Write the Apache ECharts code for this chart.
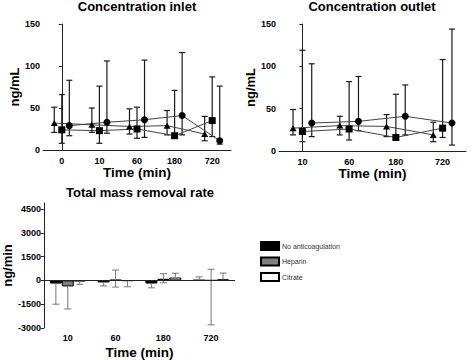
<!DOCTYPE html>
<html>
<head>
<meta charset="utf-8">
<script src="https://cdn.jsdelivr.net/npm/echarts@6/dist/echarts.min.js"></script>
<style>
  html, body { margin: 0; padding: 0; background: #fff; }
  #chart { width: 472px; height: 360px; }
</style>
</head>
<body>
<div id="chart"></div>
<script>
// time points
const inletTimes = ["0", "10", "60", "180", "720"];
const outletTimes = ["10", "60", "180", "720"];

// inlet concentration (ng/mL): median + range bars
const inletTriMean = [32, 30, 28, 29, 19];
const inletTriLow = [21, 21, 19, 18, 11];
const inletTriHigh = [51, 50, 49, 47, 40];
const inletSqMean = [24, 23, 25, 17, 35];
const inletSqLow = [8, 8, 14, 15, 16];
const inletSqHigh = [66, 76, 51, 71, 87];
const inletCircMean = [29, 33, 36, 41, 11];
const inletCircLow = [17, 20, 15, 18, 7];
const inletCircHigh = [83, 106, 107, 116, 76];

// outlet concentration (ng/mL)
const outletTriMean = [27, 30, 29, 19];
const outletTriLow = [19, 19, 17, 11];
const outletTriHigh = [49, 41, 43, 34];
const outletSqMean = [23, 26, 16, 27];
const outletSqLow = [11, 13, 16, 16];
const outletSqHigh = [119, 82, 67, 108];
const outletCircMean = [33, 35, 41, 33];
const outletCircLow = [17, 24, 19, 7];
const outletCircHigh = [103, 88, 78, 144];

// total mass removal rate (ng/min)
const groupNames = ["No anticoagulation", "Heparin", "Citrate"];
const noneMean = [-200, -130, -200, 20];
const noneLow = [-1500, -350, -470, 20];
const noneHigh = [-200, -130, -200, 220];
const heparinMean = [-380, 30, 100, 0];
const heparinLow = [-1800, -420, -150, -2800];
const heparinHigh = [-380, 650, 420, 700];
const citrateMean = [-60, -30, 180, 60];
const citrateLow = [-250, -400, 180, 60];
const citrateHigh = [-60, -30, 450, 460];

const yTicksRate = [-3000, -1500, 0, 1500, 3000, 4500];

const font = "'Liberation Sans', Arial, sans-serif";
const OFF = 0.2; // left / right shift of triangle & circle inside a time point

const pts = (mean, shift) => mean.map((v, i) => [i + shift, v]);
const errs = (low, high, shift) => low.map((v, i) => [i + shift, v, high[i]]);

function errRender(params, api) {
    const x = api.value(0);
    const lo = api.coord([x, api.value(1)]);
    const hi = api.coord([x, api.value(2)]);
    const hw = 3;
    const st = { stroke: "#1a1a1a", lineWidth: 1.2 };
    return {
        type: "group",
        children: [
            { type: "line", shape: { x1: lo[0], y1: lo[1], x2: hi[0], y2: hi[1] }, style: st },
            { type: "line", shape: { x1: hi[0] - hw, y1: hi[1], x2: hi[0] + hw, y2: hi[1] }, style: st },
            { type: "line", shape: { x1: lo[0] - hw, y1: lo[1], x2: lo[0] + hw, y2: lo[1] }, style: st },
        ],
    };
}

// error bars of the bar chart, shifted onto each of the 3 bars
function barErrRender(params, api) {
    const cat = api.value(0);
    const slot = api.value(4);
    const band = api.size([1, 0])[0];
    const bw = band * 0.75 / 3;
    const mean = api.value(3);
    const lo = api.coord([cat, api.value(1)]);
    const hi = api.coord([cat, api.value(2)]);
    const x = lo[0] + (slot - 1) * bw;
    const hw = 3.5;
    const st = { stroke: "#777", lineWidth: 1 };
    const kids = [
        { type: "line", shape: { x1: x, y1: lo[1], x2: x, y2: hi[1] }, style: st },
    ];
    if (api.value(2) !== mean) kids.push({ type: "line", shape: { x1: x - hw, y1: hi[1], x2: x + hw, y2: hi[1] }, style: st });
    if (api.value(1) !== mean) kids.push({ type: "line", shape: { x1: x - hw, y1: lo[1], x2: x + hw, y2: lo[1] }, style: st });
    return { type: "group", children: kids };
}

const barErrData = (low, high, mean, slot) => low.map((v, i) => [i, v, high[i], mean[i], slot]);

const lineSeries = (name, x, y, mean, shift, symbol, size) => ({
    name,
    type: "line",
    xAxisIndex: x,
    yAxisIndex: y,
    data: pts(mean, shift),
    symbol,
    symbolSize: size,
    itemStyle: { color: "#000" },
    lineStyle: { color: "#444", width: 1 },
    z: 4,
    silent: true,
});

const errSeries = (x, y, low, high, shift) => ({
    type: "custom",
    xAxisIndex: x,
    yAxisIndex: y,
    renderItem: errRender,
    encode: { x: 0, y: [1, 2] },
    data: errs(low, high, shift),
    z: 3,
    silent: true,
});

const concY = (grid) => ({
    type: "value",
    gridIndex: grid,
    min: 0,
    max: 150,
    interval: 50,
    name: "ng/mL",
    nameLocation: "middle",
    nameGap: 21,
    nameTextStyle: { fontSize: 13, fontWeight: "bold", color: "#000", fontFamily: font },
    axisLine: { show: true, lineStyle: { color: "#222", width: 1 } },
    axisTick: { show: true, length: 3, lineStyle: { color: "#222" } },
    axisLabel: { fontSize: 9, fontWeight: "bold", color: "#000", margin: 3, fontFamily: font },
    splitLine: { show: false },
});

const timeX = (grid, labels) => ({
    type: "value",
    gridIndex: grid,
    min: -0.5,
    max: labels.length - 0.5,
    interval: 0.5,
    name: "Time (min)",
    nameLocation: "middle",
    nameGap: 15,
    nameTextStyle: { fontSize: 13.5, fontWeight: "bold", color: "#000", fontFamily: font },
    axisLine: { show: true, onZero: false, lineStyle: { color: "#222", width: 1 } },
    axisTick: { show: false },
    axisLabel: {
        fontSize: 9, fontWeight: "bold", color: "#000", margin: 6, fontFamily: font,
        formatter: v => (Number.isInteger(v) && labels[v] !== undefined ? labels[v] : ""),
    },
    splitLine: { show: false },
});

const chart = echarts.init(document.getElementById("chart"), null, { renderer: "svg" });

chart.setOption({
    backgroundColor: "#fff",
    animation: false,
    textStyle: { fontFamily: font },
    title: [
        { text: "Concentration inlet", left: 137, top: 0, textAlign: "center", padding: 0,
          textStyle: { fontSize: 13, fontWeight: "bold", color: "#000", fontFamily: font } },
        { text: "Concentration outlet", left: 372, top: 0, textAlign: "center", padding: 0,
          textStyle: { fontSize: 13, fontWeight: "bold", color: "#000", fontFamily: font } },
        { text: "Total mass removal rate", left: 140, top: 186, textAlign: "center", padding: 0,
          textStyle: { fontSize: 13, fontWeight: "bold", color: "#000", fontFamily: font } },
    ],
    legend: {
        data: groupNames,
        orient: "vertical",
        left: 260,
        top: 241,
        icon: "rect",
        itemWidth: 18,
        itemHeight: 8,
        itemGap: 5.5,
        padding: 0,
        textStyle: { fontSize: 7, color: "#333", fontFamily: font, padding: [0, 0, 0, -2] },
        selectedMode: false,
    },
    grid: [
        { left: 43, top: 24, width: 188, height: 126 },
        { left: 279, top: 24, width: 187, height: 127 },
        { left: 43, top: 203, width: 192, height: 126 },
    ],
    xAxis: [
        timeX(0, inletTimes),
        timeX(1, outletTimes),
        {
            type: "category",
            gridIndex: 2,
            data: outletTimes,
            name: "Time (min)",
            nameLocation: "middle",
            nameGap: 17,
            nameTextStyle: { fontSize: 13.5, fontWeight: "bold", color: "#000", fontFamily: font },
            axisLine: { show: false, onZero: false },
            axisTick: { show: false },
            axisLabel: { fontSize: 9, fontWeight: "bold", color: "#000", margin: 5, fontFamily: font },
            splitLine: { show: false },
        },
    ],
    yAxis: [
        concY(0),
        concY(1),
        {
            type: "value",
            gridIndex: 2,
            min: -3000,
            max: 4875,
            name: "ng/min",
            nameLocation: "middle",
            nameGap: 29,
            nameTextStyle: { fontSize: 13, fontWeight: "bold", color: "#000", fontFamily: font },
            axisLine: { show: true, lineStyle: { color: "#222", width: 1 } },
            axisTick: { show: true, length: 3, lineStyle: { color: "#222" }, customValues: yTicksRate },
            axisLabel: {
                fontSize: 9, fontWeight: "bold", color: "#000", margin: 3, fontFamily: font,
                customValues: yTicksRate,
                formatter: v => String(v),
            },
            splitLine: { show: false },
        },
    ],
    series: [
        // inlet
        errSeries(0, 0, inletTriLow, inletTriHigh, -OFF),
        errSeries(0, 0, inletSqLow, inletSqHigh, 0),
        errSeries(0, 0, inletCircLow, inletCircHigh, OFF),
        lineSeries("inlet-a", 0, 0, inletTriMean, -OFF, "triangle", [7, 6]),
        lineSeries("inlet-b", 0, 0, inletSqMean, 0, "rect", 7),
        lineSeries("inlet-c", 0, 0, inletCircMean, OFF, "circle", 7),
        // outlet
        errSeries(1, 1, outletTriLow, outletTriHigh, -OFF),
        errSeries(1, 1, outletSqLow, outletSqHigh, 0),
        errSeries(1, 1, outletCircLow, outletCircHigh, OFF),
        lineSeries("outlet-a", 1, 1, outletTriMean, -OFF, "triangle", [7, 6]),
        lineSeries("outlet-b", 1, 1, outletSqMean, 0, "rect", 7),
        lineSeries("outlet-c", 1, 1, outletCircMean, OFF, "circle", 7),
        // removal rate
        {
            name: groupNames[0],
            type: "bar",
            xAxisIndex: 2,
            yAxisIndex: 2,
            data: noneMean,
            barGap: "0%",
            barCategoryGap: "25%",
            itemStyle: { color: "#000", borderColor: "#000", borderWidth: 1 },
            markLine: {
                silent: true,
                symbol: "none",
                label: { show: false },
                lineStyle: { color: "#222", width: 1, type: "solid" },
                data: [{ yAxis: 0 }],
            },
            z: 2,
        },
        {
            name: groupNames[1],
            type: "bar",
            xAxisIndex: 2,
            yAxisIndex: 2,
            data: heparinMean,
            barGap: "0%",
            barCategoryGap: "25%",
            itemStyle: { color: "#808080", borderColor: "#000", borderWidth: 1 },
            z: 2,
        },
        {
            name: groupNames[2],
            type: "bar",
            xAxisIndex: 2,
            yAxisIndex: 2,
            data: citrateMean,
            barGap: "0%",
            barCategoryGap: "25%",
            itemStyle: { color: "#fff", borderColor: "#000", borderWidth: 1 },
            z: 2,
        },
        {
            type: "custom",
            xAxisIndex: 2,
            yAxisIndex: 2,
            renderItem: barErrRender,
            encode: { x: 0, y: [1, 2] },
            data: barErrData(noneLow, noneHigh, noneMean, 0)
                .concat(barErrData(heparinLow, heparinHigh, heparinMean, 1))
                .concat(barErrData(citrateLow, citrateHigh, citrateMean, 2)),
            z: 3,
            silent: true,
        },
    ],
});
</script>
</body>
</html>
